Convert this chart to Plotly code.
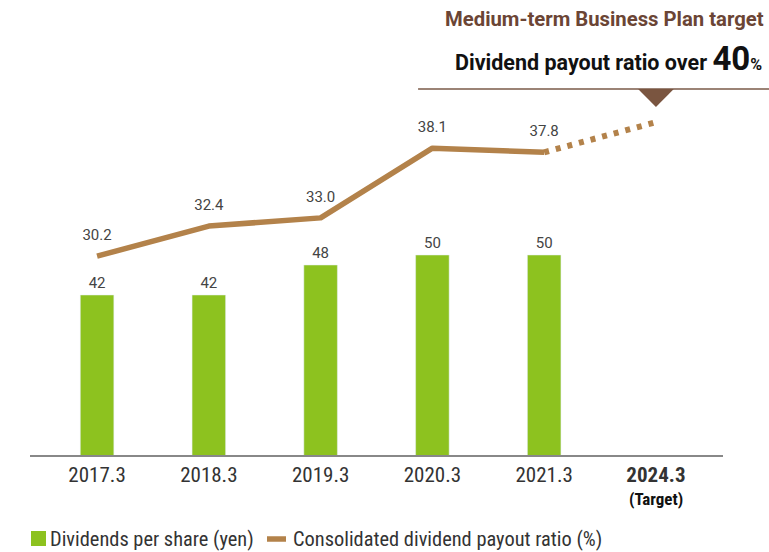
import plotly.graph_objects as go

categories = ["2017.3", "2018.3", "2019.3", "2020.3", "2021.3", "2024.3"]
dividends = [42, 42, 48, 50, 50]
payout = [30.2, 32.4, 33.0, 38.1, 37.8]
payout_target = 40.0
tick_labels = ["2017.3", "2018.3", "2019.3", "2020.3", "2021.3", "<b>2024.3</b>"]
target_note = "(Target)"
legend_labels = ["Dividends per share (yen)", "Consolidated dividend payout ratio (%)"]

GREEN = "#8dc21f"
BROWN = "#b3824a"
DARK_BROWN = "#7a5540"
FONT = "Roboto"
NARROW = "Roboto Condensed, Liberation Sans Narrow, Roboto"

fig = go.Figure()
fig.add_trace(go.Bar(
    x=categories[:5], y=dividends, name=legend_labels[0],
    marker=dict(color=GREEN), width=0.3,
    text=[str(v) for v in dividends], textposition="outside",
    textfont=dict(size=15, color="#444", family=FONT), cliponaxis=False,
))
fig.add_trace(go.Scatter(
    x=[categories[4], categories[5]], y=[payout[-1], payout_target], yaxis="y2",
    mode="lines", showlegend=False,
    line=dict(color=BROWN, width=6, dash="5px,7px"),
))
fig.add_trace(go.Scatter(
    x=categories[:5], y=payout, yaxis="y2", mode="lines",
    name=legend_labels[1],
    line=dict(color=BROWN, width=5.5),
))
fig.add_trace(go.Scatter(
    x=categories[:5], y=payout, yaxis="y2", mode="markers+text",
    text=[f"{v:.1f}" for v in payout], textposition="top center",
    marker=dict(size=18, opacity=0), showlegend=False, hoverinfo="skip",
    textfont=dict(size=15, color="#444", family=FONT), cliponaxis=False,
))

target_idx = categories.index("2024.3")

annotations = []
annotations.append(dict(xref="paper", yref="paper", x=0.596, y=1.19, xanchor="left",
                        yanchor="middle", showarrow=False,
                        text="<b>Medium-term Business Plan target</b>",
                        font=dict(size=20.3, color="#6b4535", family=FONT)))
annotations.append(dict(xref="paper", yref="paper", x=1.059, y=1.083, xanchor="right",
                        yanchor="middle", showarrow=False,
                        text="<b>Dividend payout ratio over <span style='font-size:33px'>40</span>"
                             "<span style='font-size:16px'>%</span></b>",
                        font=dict(size=21.5, color="#111", family=FONT)))
annotations.append(dict(xref="x", yref="paper", x=target_idx, y=-(499 - 455) / 366,
                        xanchor="center", yanchor="middle", showarrow=False,
                        text=f"<b>{target_note}</b>",
                        font=dict(size=17, color="#111", family=NARROW)))
# manual legend
annotations.append(dict(xref="paper", yref="paper", x=(48 - 30) / 693, y=-(539 - 455) / 366,
                        xanchor="left", yanchor="middle", showarrow=False,
                        text=legend_labels[0], font=dict(size=20.4, color="#333", family=NARROW)))
annotations.append(dict(xref="paper", yref="paper", x=(291 - 30) / 693, y=-(539 - 455) / 366,
                        xanchor="left", yanchor="middle", showarrow=False,
                        text=legend_labels[1], font=dict(size=20.4, color="#333", family=NARROW)))

shapes = [
    dict(type="line", xref="paper", yref="paper", x0=0.56, x1=1.08, y0=1.0, y1=1.0,
         line=dict(color="#7a5a48", width=1.5)),
    dict(type="path", xref="x", yref="paper",
         path=f"M {target_idx - 0.16},1.0 L {target_idx + 0.16},1.0 L {target_idx},0.951 Z",
         fillcolor=DARK_BROWN, line=dict(width=0)),
    dict(type="rect", xref="paper", yref="paper",
         x0=(31 - 30) / 693, x1=(46 - 30) / 693,
         y0=-(546 - 455) / 366, y1=-(531 - 455) / 366,
         fillcolor=GREEN, line=dict(width=0)),
    dict(type="line", xref="paper", yref="paper",
         x0=(267 - 30) / 693, x1=(286 - 30) / 693,
         y0=-(539 - 455) / 366, y1=-(539 - 455) / 366,
         line=dict(color=BROWN, width=5.5)),
]

fig.update_layout(
    width=769, height=552,
    margin=dict(l=30, r=46, t=89, b=97, autoexpand=False),
    paper_bgcolor="white", plot_bgcolor="white",
    font=dict(family=FONT, size=15, color="#333"),
    xaxis=dict(type="category", categoryorder="array", categoryarray=categories,
               range=[-0.6, 5.6], tickmode="array", tickvals=categories,
               ticktext=tick_labels, showline=True, linecolor="#888", linewidth=1.5,
               showgrid=False, ticks="", tickfont=dict(size=21, color="#333", family=NARROW)),
    yaxis=dict(range=[10, 83.2], visible=False, showgrid=False),
    yaxis2=dict(range=[15.65, 42.43], overlaying="y", visible=False, showgrid=False),
    showlegend=False,
    annotations=annotations, shapes=shapes,
)

fig.write_html("out.html", include_plotlyjs=True)

# round line joins
with open("out.html") as f:
    html = f.read()
html = html.replace("</body>", "<style>.js-line{stroke-linejoin:round;}</style></body>")
with open("out.html", "w") as f:
    f.write(html)
